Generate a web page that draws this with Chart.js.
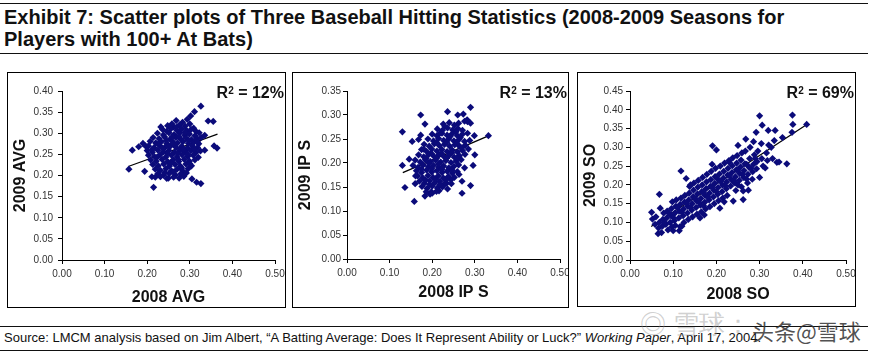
<!DOCTYPE html>
<html>
<head>
<meta charset="utf-8">
<script src="https://cdn.jsdelivr.net/npm/chart.js@4.4.1/dist/chart.umd.min.js"></script>
<style>
  body { margin: 0; width: 876px; height: 353px; background: #fff; position: relative; overflow: hidden;
         font-family: 'Liberation Sans', Arial, sans-serif; color: #111; }
  .rule { position: absolute; left: 0; width: 868px; border-top: 1.5px solid #111; }
  .title { position: absolute; left: 4px; font-weight: bold; font-size: 20px; line-height: 22px; white-space: nowrap; }
  .panel { position: absolute; top: 72px; height: 236px; border: 1px solid #000; box-sizing: border-box; }
  .panel canvas { position: absolute; left: 0; top: 0; }
  .r2 { position: absolute; right: 1px; top: 11px; font-weight: bold; font-size: 16px; line-height: 18px; white-space: nowrap; }
  .r2 sup { font-size: 10px; position: relative; top: -2px; vertical-align: top; }
  .source { position: absolute; left: 4px; top: 330px; font-size: 13px; line-height: 15px; white-space: nowrap; color: #111; }
  .wm1 { position: absolute; left: 640px; top: 307px; font-size: 26px; color: rgba(150,150,150,0.45); white-space: nowrap; }
  .wm2 { position: absolute; left: 752px; top: 314px; font-size: 22px; color: rgba(50,50,50,0.85); white-space: nowrap;
         font-family: 'Noto Sans CJK SC', sans-serif; }
</style>
</head>
<body>
<div class="rule" style="top:3px"></div>
<div class="title" style="top:6px">Exhibit 7: Scatter plots of Three Baseball Hitting Statistics (2008-2009 Seasons for</div>
<div class="title" style="top:28px">Players with 100+ At Bats)</div>
<div class="rule" style="top:53px"></div>

<div class="panel" style="left:7px; width:279px">
  <canvas id="avgChart" width="277" height="234"></canvas>
  <div class="r2">R<sup>2</sup> = 12%</div>
</div>
<div class="panel" style="left:292px; width:277px">
  <canvas id="ipsChart" width="275" height="234"></canvas>
  <div class="r2">R<sup>2</sup> = 13%</div>
</div>
<div class="panel" style="left:577px; width:279px; height:235px">
  <canvas id="soChart" width="277" height="233"></canvas>
  <div class="r2">R<sup>2</sup> = 69%</div>
</div>

<div class="rule" style="top:326px"></div>
<div class="source">Source: LMCM analysis based on Jim Albert, “A Batting Average: Does It Represent Ability or Luck?” <i>Working Paper</i>, April 17, 2004.</div>
<div class="rule" style="top:350px"></div>
<div class="wm1">◎ 雪球：</div>
<div class="wm2">头条@雪球</div>

<script>
Chart.defaults.font.family = "'Liberation Sans', Arial, sans-serif"

const NAVY = '#0b0b7a'

// tick values
const xTickValues = [0, 0.1, 0.2, 0.3, 0.4, 0.5]
const avgYTicks = [0, 0.05, 0.10, 0.15, 0.20, 0.25, 0.30, 0.35, 0.40]
const ipsYTicks = [0, 0.05, 0.10, 0.15, 0.20, 0.25, 0.30, 0.35]
const soYTicks = [0, 0.05, 0.10, 0.15, 0.20, 0.25, 0.30, 0.35, 0.40, 0.45]

// 2008 AVG vs 2009 AVG
const avgPoints = [
  [0.157, 0.215], [0.165, 0.260], [0.180, 0.268], [0.190, 0.276], [0.196, 0.270], [0.194, 0.210],
  [0.215, 0.172], [0.211, 0.197], [0.219, 0.196], [0.250, 0.194], [0.275, 0.194], [0.305, 0.192],
  [0.316, 0.184], [0.326, 0.181], [0.326, 0.364], [0.311, 0.351], [0.302, 0.341], [0.343, 0.329],
  [0.355, 0.328], [0.357, 0.270], [0.364, 0.265], [0.335, 0.260], [0.327, 0.290], [0.335, 0.295],
  [0.268, 0.330], [0.283, 0.326], [0.294, 0.333], [0.258, 0.322],
  [0.248, 0.318], [0.262, 0.315], [0.276, 0.320], [0.289, 0.317], [0.300, 0.322], [0.309, 0.312],
  [0.236, 0.309], [0.246, 0.305], [0.256, 0.311], [0.270, 0.307], [0.281, 0.310], [0.293, 0.306], [0.303, 0.309], [0.315, 0.304],
  [0.224, 0.300], [0.238, 0.296], [0.251, 0.301], [0.263, 0.297], [0.276, 0.300], [0.288, 0.295], [0.299, 0.298], [0.312, 0.294], [0.322, 0.301],
  [0.214, 0.290], [0.228, 0.287], [0.241, 0.291], [0.254, 0.286], [0.267, 0.290], [0.279, 0.286], [0.291, 0.289], [0.304, 0.285], [0.318, 0.287],
  [0.207, 0.281], [0.220, 0.277], [0.233, 0.280], [0.246, 0.276], [0.259, 0.281], [0.271, 0.277], [0.284, 0.280], [0.297, 0.276], [0.310, 0.279], [0.321, 0.275],
  [0.203, 0.270], [0.216, 0.266], [0.229, 0.271], [0.242, 0.267], [0.255, 0.270], [0.268, 0.266], [0.281, 0.269], [0.294, 0.265], [0.306, 0.270], [0.318, 0.266],
  [0.200, 0.259], [0.212, 0.255], [0.225, 0.260], [0.238, 0.256], [0.251, 0.259], [0.264, 0.255], [0.277, 0.260], [0.289, 0.256], [0.302, 0.259], [0.314, 0.254], [0.325, 0.258],
  [0.203, 0.248], [0.217, 0.245], [0.230, 0.249], [0.244, 0.244], [0.257, 0.248], [0.270, 0.244], [0.282, 0.249], [0.295, 0.245], [0.308, 0.248], [0.320, 0.243],
  [0.208, 0.237], [0.221, 0.234], [0.235, 0.238], [0.248, 0.233], [0.261, 0.237], [0.274, 0.233], [0.287, 0.238], [0.299, 0.234], [0.312, 0.237],
  [0.213, 0.226], [0.226, 0.223], [0.239, 0.227], [0.252, 0.222], [0.265, 0.226], [0.278, 0.222], [0.291, 0.227], [0.304, 0.223],
  [0.219, 0.215], [0.231, 0.212], [0.244, 0.216], [0.257, 0.211], [0.270, 0.215], [0.283, 0.211], [0.296, 0.216],
  [0.225, 0.204], [0.238, 0.201], [0.252, 0.205], [0.266, 0.201], [0.279, 0.204], [0.292, 0.206],
  [0.231, 0.197], [0.246, 0.193], [0.262, 0.196], [0.286, 0.198],
  [0.232, 0.315], [0.259, 0.292], [0.285, 0.262], [0.247, 0.252], [0.273, 0.238], [0.223, 0.243], [0.297, 0.283],
  [0.262, 0.275], [0.236, 0.265], [0.310, 0.262], [0.281, 0.218], [0.255, 0.230], [0.245, 0.283], [0.272, 0.252],
  [0.226, 0.275], [0.295, 0.250], [0.262, 0.208], [0.242, 0.207], [0.300, 0.228], [0.274, 0.292], [0.250, 0.269],
  [0.289, 0.302], [0.212, 0.262], [0.318, 0.280], [0.268, 0.314]
]
const avgFit = [[0.157, 0.222], [0.365, 0.298]]

// 2008 IP S vs 2009 IP S
const ipsPoints = [
  [0.130, 0.195], [0.130, 0.265], [0.136, 0.149], [0.158, 0.120], [0.173, 0.300], [0.183, 0.281],
  [0.173, 0.258], [0.153, 0.245], [0.146, 0.208], [0.160, 0.157], [0.161, 0.173], [0.183, 0.131],
  [0.195, 0.135], [0.198, 0.140], [0.216, 0.142], [0.236, 0.307], [0.260, 0.300], [0.273, 0.302],
  [0.290, 0.316], [0.276, 0.287], [0.283, 0.286], [0.290, 0.283], [0.299, 0.257], [0.332, 0.257],
  [0.300, 0.217], [0.296, 0.195], [0.290, 0.153], [0.270, 0.137], [0.270, 0.162], [0.276, 0.190],
  [0.263, 0.176], [0.234, 0.158], [0.226, 0.153], [0.245, 0.157], [0.168, 0.249], [0.282, 0.290],
  [0.226, 0.281], [0.240, 0.284], [0.252, 0.279], [0.262, 0.283],
  [0.212, 0.271], [0.224, 0.268], [0.236, 0.273], [0.248, 0.269], [0.260, 0.272], [0.271, 0.268],
  [0.200, 0.260], [0.211, 0.257], [0.223, 0.262], [0.235, 0.258], [0.247, 0.261], [0.259, 0.257], [0.271, 0.260], [0.283, 0.262],
  [0.190, 0.250], [0.203, 0.246], [0.215, 0.251], [0.227, 0.247], [0.239, 0.250], [0.251, 0.246], [0.263, 0.249], [0.276, 0.245], [0.288, 0.247],
  [0.181, 0.239], [0.193, 0.235], [0.205, 0.240], [0.217, 0.236], [0.229, 0.239], [0.241, 0.235], [0.253, 0.238], [0.265, 0.234], [0.278, 0.237],
  [0.175, 0.228], [0.187, 0.224], [0.199, 0.229], [0.211, 0.225], [0.223, 0.228], [0.235, 0.224], [0.247, 0.227], [0.259, 0.223], [0.271, 0.226], [0.285, 0.229],
  [0.168, 0.217], [0.180, 0.213], [0.192, 0.218], [0.204, 0.214], [0.216, 0.217], [0.228, 0.213], [0.240, 0.216], [0.252, 0.212], [0.264, 0.215], [0.277, 0.218],
  [0.160, 0.206], [0.172, 0.202], [0.184, 0.207], [0.196, 0.203], [0.208, 0.206], [0.220, 0.202], [0.232, 0.205], [0.244, 0.201], [0.256, 0.204], [0.268, 0.207],
  [0.155, 0.195], [0.167, 0.191], [0.179, 0.196], [0.191, 0.192], [0.203, 0.195], [0.215, 0.191], [0.227, 0.194], [0.239, 0.190], [0.251, 0.193], [0.262, 0.196],
  [0.163, 0.184], [0.175, 0.180], [0.187, 0.185], [0.199, 0.181], [0.211, 0.184], [0.223, 0.180], [0.235, 0.183], [0.247, 0.179], [0.259, 0.182],
  [0.166, 0.173], [0.178, 0.169], [0.190, 0.174], [0.202, 0.170], [0.214, 0.173], [0.226, 0.169], [0.238, 0.172], [0.252, 0.170],
  [0.170, 0.162], [0.182, 0.158], [0.194, 0.163], [0.206, 0.159], [0.218, 0.162], [0.230, 0.158], [0.244, 0.165],
  [0.176, 0.151], [0.188, 0.147], [0.200, 0.152], [0.212, 0.148], [0.224, 0.150], [0.236, 0.146],
  [0.186, 0.140], [0.200, 0.137], [0.210, 0.141],
  [0.230, 0.276], [0.218, 0.262], [0.242, 0.255], [0.256, 0.265], [0.210, 0.243], [0.234, 0.243], [0.258, 0.241],
  [0.198, 0.220], [0.222, 0.220], [0.246, 0.221], [0.270, 0.232], [0.186, 0.210], [0.210, 0.210], [0.234, 0.210],
  [0.258, 0.210], [0.175, 0.187], [0.199, 0.188], [0.223, 0.187], [0.247, 0.185], [0.184, 0.165], [0.208, 0.166],
  [0.232, 0.165], [0.194, 0.155], [0.218, 0.155], [0.180, 0.229], [0.266, 0.253], [0.192, 0.200], [0.215, 0.198]
]
const ipsFit = [[0.131, 0.180], [0.336, 0.258]]

// 2008 SO vs 2009 SO
const soPoints = [
  [0.050, 0.127], [0.052, 0.109], [0.058, 0.095], [0.060, 0.115],
  [0.065, 0.070], [0.066, 0.085], [0.068, 0.100], [0.068, 0.175], [0.070, 0.138],
  [0.073, 0.073], [0.075, 0.090], [0.076, 0.108], [0.078, 0.125],
  [0.083, 0.095], [0.085, 0.112], [0.086, 0.130], [0.088, 0.080],
  [0.093, 0.100], [0.095, 0.118], [0.096, 0.137], [0.098, 0.155], [0.097, 0.088],
  [0.103, 0.105], [0.104, 0.125], [0.106, 0.143], [0.107, 0.160], [0.105, 0.092],
  [0.113, 0.112], [0.114, 0.130], [0.116, 0.148], [0.118, 0.165], [0.114, 0.078], [0.116, 0.089], [0.118, 0.237],
  [0.123, 0.118], [0.124, 0.136], [0.126, 0.154], [0.127, 0.172], [0.125, 0.100], [0.130, 0.217],
  [0.133, 0.125], [0.134, 0.143], [0.136, 0.160], [0.137, 0.178], [0.135, 0.108], [0.138, 0.196],
  [0.143, 0.133], [0.144, 0.150], [0.146, 0.168], [0.147, 0.186], [0.145, 0.115], [0.148, 0.205],
  [0.153, 0.140], [0.154, 0.158], [0.156, 0.176], [0.157, 0.194], [0.155, 0.122], [0.158, 0.212],
  [0.163, 0.146], [0.164, 0.164], [0.166, 0.182], [0.167, 0.200], [0.165, 0.128], [0.168, 0.220], [0.162, 0.112],
  [0.173, 0.154], [0.174, 0.172], [0.176, 0.190], [0.177, 0.208], [0.175, 0.136], [0.178, 0.228], [0.172, 0.120],
  [0.183, 0.160], [0.184, 0.178], [0.186, 0.196], [0.187, 0.214], [0.185, 0.142], [0.188, 0.236], [0.190, 0.255],
  [0.193, 0.168], [0.194, 0.186], [0.196, 0.204], [0.197, 0.222], [0.195, 0.150], [0.198, 0.244], [0.191, 0.304], [0.200, 0.293],
  [0.203, 0.175], [0.204, 0.193], [0.206, 0.211], [0.207, 0.229], [0.205, 0.158], [0.208, 0.138], [0.209, 0.250],
  [0.213, 0.182], [0.214, 0.200], [0.216, 0.218], [0.217, 0.236], [0.215, 0.165], [0.218, 0.155], [0.219, 0.258],
  [0.223, 0.190], [0.224, 0.208], [0.226, 0.226], [0.227, 0.244], [0.225, 0.172], [0.229, 0.265],
  [0.233, 0.197], [0.234, 0.215], [0.236, 0.233], [0.237, 0.251], [0.240, 0.208], [0.239, 0.157], [0.238, 0.272],
  [0.243, 0.205], [0.244, 0.222], [0.246, 0.240], [0.247, 0.258], [0.245, 0.185], [0.250, 0.305], [0.248, 0.278],
  [0.253, 0.212], [0.254, 0.230], [0.256, 0.248], [0.257, 0.266], [0.258, 0.195], [0.259, 0.285],
  [0.262, 0.161], [0.262, 0.184], [0.263, 0.220], [0.264, 0.238], [0.266, 0.256], [0.267, 0.290], [0.268, 0.322],
  [0.274, 0.186], [0.273, 0.228], [0.276, 0.246], [0.277, 0.270], [0.278, 0.300], [0.272, 0.205],
  [0.286, 0.315], [0.284, 0.235], [0.286, 0.255], [0.288, 0.280], [0.283, 0.215],
  [0.292, 0.340], [0.294, 0.262], [0.296, 0.290], [0.300, 0.220], [0.300, 0.384], [0.293, 0.243],
  [0.305, 0.270], [0.306, 0.359], [0.304, 0.310], [0.308, 0.250],
  [0.313, 0.245], [0.316, 0.285], [0.320, 0.345], [0.321, 0.306], [0.318, 0.265],
  [0.327, 0.300], [0.330, 0.270], [0.336, 0.345], [0.334, 0.318],
  [0.340, 0.260], [0.345, 0.261], [0.353, 0.326], [0.363, 0.256], [0.376, 0.386], [0.377, 0.361], [0.375, 0.340], [0.409, 0.361],
  [0.080, 0.100], [0.090, 0.125], [0.100, 0.113], [0.110, 0.140], [0.120, 0.127], [0.130, 0.152], [0.140, 0.140],
  [0.150, 0.165], [0.160, 0.153], [0.170, 0.180], [0.180, 0.168], [0.190, 0.195], [0.200, 0.182], [0.210, 0.210],
  [0.220, 0.198], [0.230, 0.225], [0.240, 0.213], [0.250, 0.240], [0.260, 0.228], [0.270, 0.255], [0.280, 0.245],
  [0.290, 0.270], [0.170, 0.145], [0.200, 0.220], [0.250, 0.200], [0.140, 0.200], [0.120, 0.090], [0.100, 0.078],
  [0.230, 0.260], [0.270, 0.215]
]
const soFit = [[0.049, 0.089], [0.411, 0.362]]

const toXY = (arr) => arr.map(([x, y]) => ({ x, y }))

const drawPanel = (id, points, fit, yTicks, xLabel, yLabel, look) => {
  const canvas = document.getElementById(id)
  const axisGrid = { display: true, drawOnChartArea: false, drawTicks: true, tickLength: 4, color: '#000', tickColor: '#000' }
  const axisBorder = { display: true, color: '#000', width: 1 }
  const titleFont = { size: 16, weight: 'bold' }

  new Chart(canvas, {
    type: 'scatter',
    data: {
      datasets: [
        { data: toXY(points), pointStyle: 'rectRot', pointRadius: 3.6, backgroundColor: NAVY, borderWidth: 0, order: 0 },
        { data: toXY(fit), showLine: true, borderColor: '#000', borderWidth: 1.2, pointRadius: 0, order: 1 }
      ]
    },
    options: {
      responsive: false,
      animation: false,
      events: [],
      plugins: { legend: { display: false }, tooltip: { enabled: false } },
      layout: { padding: { left: 0, top: 18, right: look.right, bottom: 0 } },
      scales: {
        x: {
          min: 0, max: 0.5,
          afterBuildTicks: (s) => { s.ticks = xTickValues.map((v) => ({ value: v })) },
          afterFit: (s) => { s.height = look.xh; s.paddingLeft = 0; s.paddingRight = 0 },
          grid: axisGrid, border: axisBorder,
          ticks: { padding: 4, color: '#333', font: { size: 10 }, maxRotation: 0, autoSkip: false, callback: (v) => v.toFixed(2) },
          title: { display: true, text: xLabel, color: '#111', font: titleFont, padding: { top: 0, bottom: look.xtp } }
        },
        y: {
          min: 0, max: yTicks[yTicks.length - 1],
          afterBuildTicks: (s) => { s.ticks = yTicks.map((v) => ({ value: v })) },
          afterFit: (s) => { s.width = look.yw; s.paddingTop = 0; s.paddingBottom = 0 },
          grid: axisGrid, border: axisBorder,
          ticks: { padding: look.ytp, color: '#333', font: { size: 10 }, autoSkip: false, callback: (v) => v.toFixed(2) },
          title: { display: true, text: yLabel, color: '#111', font: titleFont, padding: { top: 3, bottom: 0 } }
        }
      }
    }
  })
}

drawPanel('avgChart', avgPoints, avgFit, avgYTicks, '2008 AVG', '2009 AVG', { right: 10, xh: 47, xtp: 0, yw: 54, ytp: 5 })
drawPanel('ipsChart', ipsPoints, ipsFit, ipsYTicks, '2008 IP S', '2009 IP S', { right: 8, xh: 48, xtp: 5, yw: 54, ytp: 2 })
drawPanel('soChart', soPoints, soFit, soYTicks, '2008 SO', '2009 SO', { right: 9, xh: 46, xtp: 2, yw: 52, ytp: 3 })
</script>
</body>
</html>
